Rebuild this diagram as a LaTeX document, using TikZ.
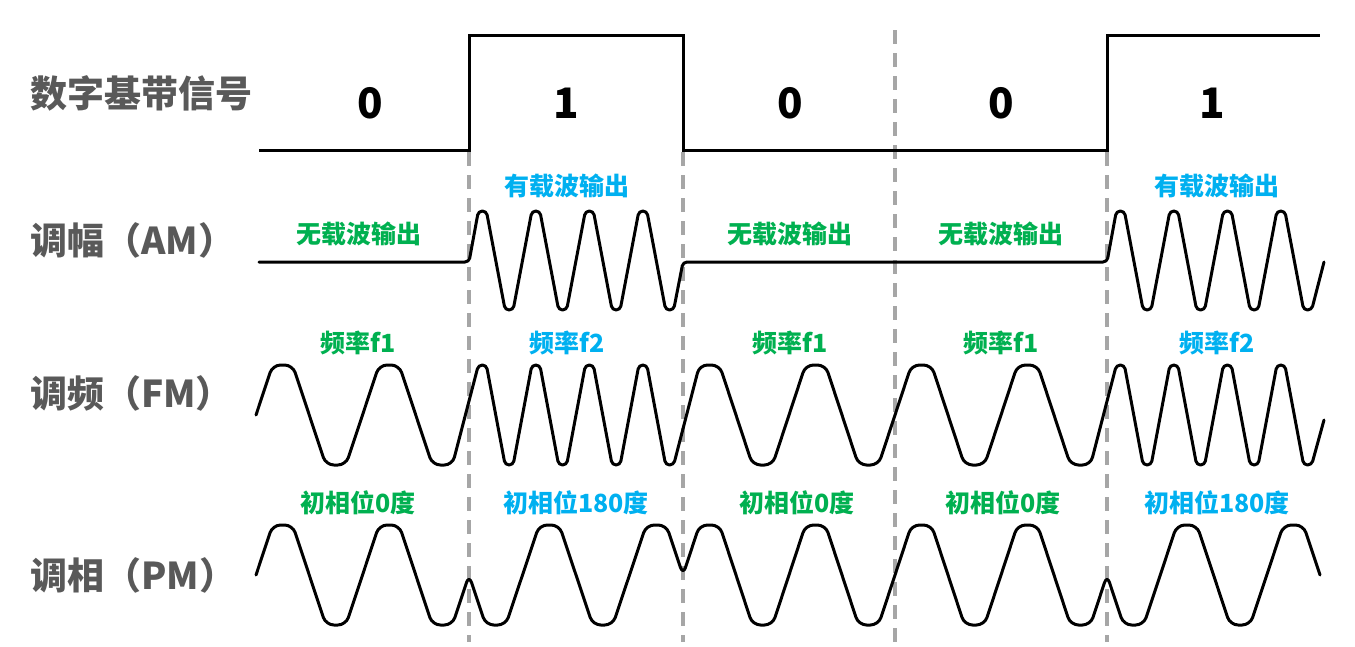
\documentclass[tikz,border=0pt]{standalone}
\usepackage{fontspec}
\newfontfamily\cjk{Noto Sans CJK SC}
\definecolor{labgray}{HTML}{595959}
\definecolor{okgreen}{HTML}{00B050}
\definecolor{okblue}{HTML}{00B0F0}
\definecolor{dashgray}{HTML}{A6A6A6}
\tikzset{
  rowlabel/.style={anchor=west, inner sep=0pt, text=labgray, font=\cjk\bfseries\fontsize{37}{40}\selectfont},
  bitlabel/.style={inner sep=0pt, text=black, font=\cjk\bfseries\fontsize{42}{46}\selectfont},
  greentxt/.style={inner sep=0pt, text=okgreen, font=\cjk\bfseries\fontsize{25}{28}\selectfont},
  bluetxt/.style={inner sep=0pt, text=okblue, font=\cjk\bfseries\fontsize{25}{28}\selectfont},
  wave/.style={line width=3pt, black, rounded corners=4pt, line join=round, line cap=round},
  sep/.style={line width=4pt, dashgray, dash pattern=on 14pt off 9pt},
}
\begin{document}
\begin{tikzpicture}[x=1pt,y=-1pt]
\useasboundingbox (0,0) rectangle (1355,646);
% separators
\draw[sep] (469,152) -- (469,642);
\draw[sep] (683,152) -- (683,642);
\draw[sep] (895,30) -- (895,642);
\draw[sep] (1107,152) -- (1107,642);
% row labels
\node[rowlabel] (lbase) at (30,93) {数字基带信号};
\node[rowlabel] (lam) at (30,240) {调幅（AM）};
\node[rowlabel] (lfm) at (30,393) {调频（FM）};
\node[rowlabel] (lpm) at (30,575) {调相（PM）};
% digital signal
\draw[line width=3pt, line join=miter] (259,150) -- (469,150) -- (469,35) -- (683,35) -- (683,150) -- (1107,150) -- (1107,35) -- (1320,35);
\node[bitlabel] (b1) at (370,103) {0};
\node[bitlabel] (b2) at (566,103) {1};
\node[bitlabel] (b3) at (790,103) {0};
\node[bitlabel] (b4) at (1001,103) {0};
\node[bitlabel] (b5) at (1212,103) {1};
% AM
\node[greentxt] (a1) at (359,234) {无载波输出};
\node[bluetxt]  (a2) at (567,186) {有载波输出};
\node[greentxt] (a3) at (790,234) {无载波输出};
\node[greentxt] (a4) at (1001,234) {无载波输出};
\node[bluetxt]  (a5) at (1217,186) {有载波输出};
\draw[wave] (259,262) -- (469,262)
  \foreach \k in {0,...,3} { -- ({469+\k*53.5+13.375-4},211) -- ({469+\k*53.5+13.375+4},211) -- ({469+\k*53.5+40.125-4},310) -- ({469+\k*53.5+40.125+4},310) }
  -- (683,262) -- (1107,262)
  \foreach \k in {0,...,3} { -- ({1107+\k*53.5+13.375-4},211) -- ({1107+\k*53.5+13.375+4},211) -- ({1107+\k*53.5+40.125-4},310) -- ({1107+\k*53.5+40.125+4},310) }
  -- (1324,262);
% FM
\node[greentxt] (f1) at (358,343) {频率f1};
\node[bluetxt]  (f2) at (567,343) {频率f2};
\node[greentxt] (f3) at (790,343) {频率f1};
\node[greentxt] (f4) at (1001,343) {频率f1};
\node[bluetxt]  (f5) at (1217,343) {频率f2};
\draw[wave] (256,415)
  \foreach \x/\n/\P/\h/\r in {256/1/106.5/10/8, 469/3/53.5/4/4, 683/1/106/10/8, 895/1/106/10/8, 1107/3/53.5/4/4} {
    [rounded corners=\r pt]
    \foreach \k in {0,...,\n} { -- ({\x+\k*\P+\P/4-\h},365) -- ({\x+\k*\P+\P/4+\h},365) -- ({\x+\k*\P+3*\P/4-\h},465) -- ({\x+\k*\P+3*\P/4+\h},465) }
  }
  -- (1324,420);
% PM
\node[greentxt] (p1) at (358,503) {初相位0度};
\node[bluetxt]  (p2) at (576,503) {初相位180度};
\node[greentxt] (p3) at (797,503) {初相位0度};
\node[greentxt] (p4) at (1003,503) {初相位0度};
\node[bluetxt]  (p5) at (1217,503) {初相位180度};
\draw[wave, rounded corners=8pt] (256,575)
  \foreach \x/\s/\P in {256/1/106.5, 469/-1/107, 683/1/106, 895/1/106, 1107/-1/106.5} {
    \foreach \k in {0,1} { -- ({\x+\k*\P+\P/4-10},{575-\s*50}) -- ({\x+\k*\P+\P/4+10},{575-\s*50}) -- ({\x+\k*\P+3*\P/4-10},{575+\s*50}) -- ({\x+\k*\P+3*\P/4+10},{575+\s*50}) }
    -- ({\x+2*\P},575)
  };
\end{tikzpicture}
\end{document}
